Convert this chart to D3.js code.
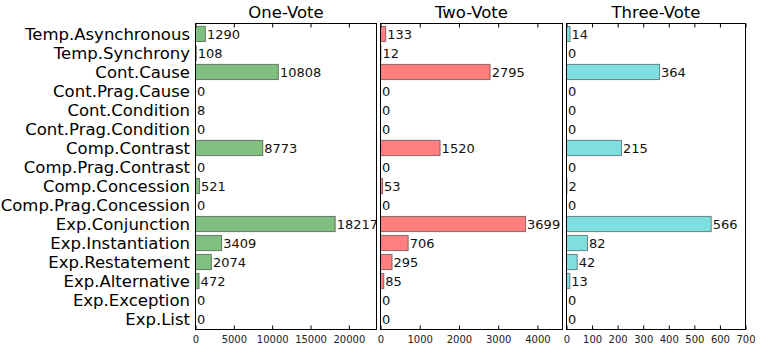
<!DOCTYPE html>
<html>
<head>
<meta charset="utf-8">
<script src="https://cdn.jsdelivr.net/npm/d3@7"></script>
<style>
  body { margin: 0; background: #fff; }
  text { font-family: "DejaVu Sans", sans-serif; }
</style>
</head>
<body>
<svg id="chart" width="763" height="348"></svg>
<script>
const categories = [
  "Temp.Asynchronous", "Temp.Synchrony", "Cont.Cause", "Cont.Prag.Cause",
  "Cont.Condition", "Cont.Prag.Condition", "Comp.Contrast", "Comp.Prag.Contrast",
  "Comp.Concession", "Comp.Prag.Concession", "Exp.Conjunction", "Exp.Instantiation",
  "Exp.Restatement", "Exp.Alternative", "Exp.Exception", "Exp.List"
];
const oneVote = [1290, 108, 10808, 0, 8, 0, 8773, 0, 521, 0, 18217, 3409, 2074, 472, 0, 0];
const twoVote = [133, 12, 2795, 0, 0, 0, 1520, 0, 53, 0, 3699, 706, 295, 85, 0, 0];
const threeVote = [14, 0, 364, 0, 0, 0, 215, 0, 2, 0, 566, 82, 42, 13, 0, 0];

const titles = ["One-Vote", "Two-Vote", "Three-Vote"];
const xMax = [23600, 4640, 700];
const tickVals = [
  [0, 5000, 10000, 15000, 20000],
  [0, 1000, 2000, 3000, 4000],
  [0, 100, 200, 300, 400, 500, 600, 700]
];
const colors = ["#7fbf7f", "#ff7f7f", "#7fdfdf"];
const series = [oneVote, twoVote, threeVote];

const svg = d3.select("#chart");
const plotTop = 23.5, plotBottom = 329.5;
const panelX = [[195.5, 376.5], [380.5, 562.5], [566.5, 745.5]];

const y = d3.scaleBand()
  .domain(categories)
  .range([plotTop, plotBottom])
  .paddingInner(0.2)
  .paddingOuter(0.15);

// category labels
svg.append("g")
  .selectAll("text")
  .data(categories)
  .enter()
  .append("text")
  .attr("x", 190)
  .attr("y", d => y(d) + y.bandwidth() / 2)
  .attr("dy", "0.36em")
  .attr("text-anchor", "end")
  .style("font-size", "16.5px")
  .attr("fill", "#000")
  .text(d => d);

series.forEach((vals, k) => {
  const x = d3.scaleLinear()
    .domain([0, xMax[k]])
    .range(panelX[k]);

  const g = svg.append("g");

  // bars
  g.selectAll("rect")
    .data(vals)
    .enter()
    .append("rect")
    .attr("x", x(0))
    .attr("y", (d, i) => y(categories[i]))
    .attr("width", d => x(d) - x(0))
    .attr("height", y.bandwidth())
    .attr("fill", colors[k])
    .attr("stroke", "rgba(0,0,0,0.45)")
    .attr("stroke-width", 1);

  // value labels
  g.selectAll("text.val")
    .data(vals)
    .enter()
    .append("text")
    .attr("class", "val")
    .attr("x", d => x(d) + 1.5)
    .attr("y", (d, i) => y(categories[i]) + y.bandwidth() / 2)
    .attr("dy", "0.36em")
    .style("font-size", "13px")
    .attr("fill", "#111")
    .text(d => d);

  // bottom axis
  const axB = g.append("g")
    .attr("transform", `translate(0,${plotBottom})`)
    .call(d3.axisBottom(x).tickValues(tickVals[k]).tickSizeInner(-4).tickSizeOuter(0).tickPadding(6).tickFormat(d3.format("d")));
  axB.select(".domain").remove();
  axB.selectAll("line").attr("stroke", "#000");
  axB.selectAll("text").style("font-size", "10px").attr("fill", "#222").attr("font-family", "DejaVu Sans");

  // top ticks
  const axT = g.append("g")
    .attr("transform", `translate(0,${plotTop})`)
    .call(d3.axisTop(x).tickValues(tickVals[k]).tickSizeInner(-4).tickSizeOuter(0).tickFormat(""));
  axT.select(".domain").remove();
  axT.selectAll("line").attr("stroke", "#000");

  // frame
  g.append("rect")
    .attr("x", panelX[k][0])
    .attr("y", plotTop)
    .attr("width", panelX[k][1] - panelX[k][0])
    .attr("height", plotBottom - plotTop)
    .attr("fill", "none")
    .attr("stroke", "#000")
    .attr("stroke-width", 1);

  // title
  svg.append("text")
    .attr("x", (panelX[k][0] + panelX[k][1]) / 2)
    .attr("y", 18)
    .attr("text-anchor", "middle")
    .style("font-size", "16.5px")
    .attr("fill", "#000")
    .text(titles[k]);
});
</script>
</body>
</html>
